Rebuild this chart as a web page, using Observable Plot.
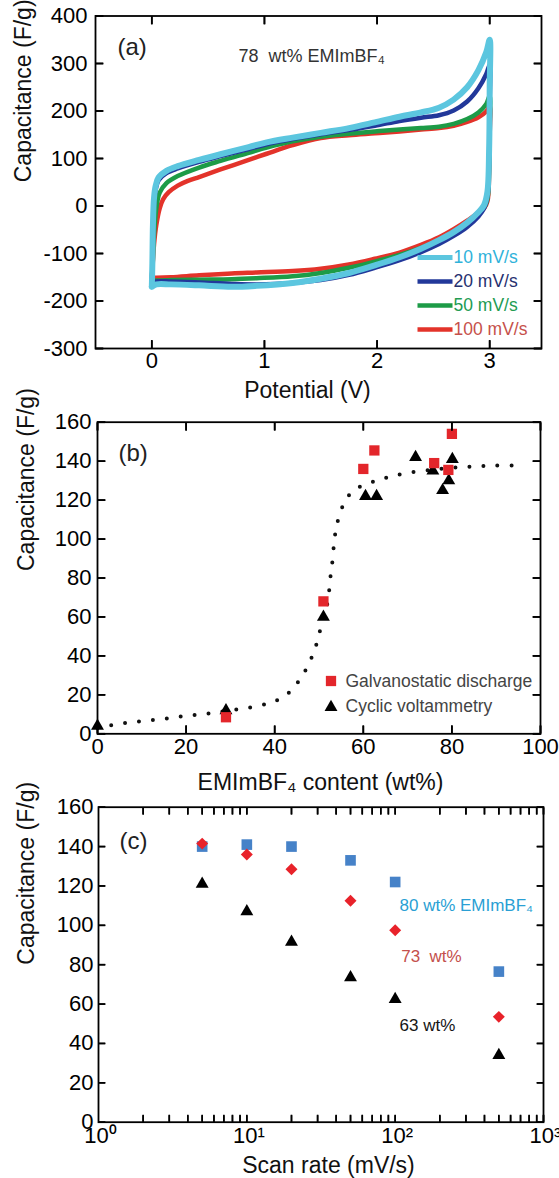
<!DOCTYPE html>
<html><head><meta charset="utf-8">
<script src="https://cdn.jsdelivr.net/npm/d3@7"></script>
<script src="https://cdn.jsdelivr.net/npm/@observablehq/plot@0.6"></script>
<style>
html,body{margin:0;padding:0;background:#fff;}
#wrap{position:relative;width:559px;height:1178px;overflow:hidden;background:#fff;}
#wrap svg{position:absolute;left:0;}
</style></head><body><div id="wrap"></div>
<script>
// ---------- Panel (a): cyclic voltammograms, 78 wt% EMImBF4 ----------
const cvSeries = ["10 mV/s", "20 mV/s", "50 mV/s", "100 mV/s"];
const cvColors = ["#5cc6df", "#22389a", "#1d9b47", "#e3332a"];
const cvTextColors = ["#2fb2da", "#26306f", "#229b52", "#c6504a"];
const cv10V = [0, 0.005, 0.01, 0.02, 0.035, 0.06, 0.13, 0.23, 0.42, 0.61, 0.86, 1.02, 1.25, 1.5, 1.75, 1.98, 2.2, 2.39, 2.55, 2.68, 2.8, 2.9, 2.97, 3.0, 3.0, 2.995, 2.98, 2.95, 2.9, 2.8, 2.68, 2.55, 2.39, 2.2, 1.98, 1.75, 1.5, 1.25, 0.93, 0.71, 0.42, 0.17, 0.04, 0];
const cv10C = [-170, -120, -40, 18, 43, 60, 74, 84, 97, 109, 124, 134, 144, 154, 164, 176, 188, 197, 207, 224, 250, 286, 324, 350, 250, 120, 30, 2, -13, -35, -55, -72, -90, -108, -125, -141, -153, -162, -168, -170, -167, -165, -165, -170];
const cv20V = [0, 0.005, 0.012, 0.02, 0.035, 0.06, 0.13, 0.23, 0.42, 0.61, 0.86, 1.02, 1.25, 1.5, 1.75, 1.98, 2.2, 2.39, 2.55, 2.68, 2.8, 2.9, 2.97, 3.0, 3.0, 2.995, 2.98, 2.95, 2.9, 2.8, 2.68, 2.55, 2.39, 2.2, 1.98, 1.75, 1.5, 1.25, 0.93, 0.71, 0.42, 0.17, 0.04, 0];
const cv20C = [-164, -125, -50, 5, 35, 54, 69, 79, 93, 105, 120, 130, 141, 151, 160, 169, 179, 186, 191, 201, 220, 248, 278, 297, 220, 100, 20, -5, -22, -44, -63, -80, -97, -114, -130, -145, -156, -162, -165, -164, -161, -159, -159, -164];
const cv50V = [0, 0.01, 0.02, 0.04, 0.07, 0.13, 0.23, 0.42, 0.61, 0.86, 1.02, 1.25, 1.5, 1.75, 1.98, 2.2, 2.39, 2.55, 2.68, 2.8, 2.9, 2.97, 3.0, 3.0, 2.995, 2.98, 2.95, 2.9, 2.8, 2.68, 2.55, 2.39, 2.2, 1.98, 1.75, 1.5, 1.25, 0.93, 0.71, 0.42, 0.17, 0.04, 0];
const cv50C = [-158, -110, -60, -5, 28, 48, 63, 81, 95, 112, 123, 136, 146, 152, 157, 161, 164, 167, 173, 183, 197, 215, 232, 170, 80, 15, -4, -17, -35, -55, -72, -88, -103, -117, -130, -141, -148, -152, -154, -155, -156, -157, -158];
const cv100V = [0, 0.01, 0.02, 0.04, 0.07, 0.1, 0.15, 0.23, 0.32, 0.42, 0.61, 0.86, 1.02, 1.25, 1.5, 1.75, 1.98, 2.2, 2.39, 2.55, 2.68, 2.8, 2.9, 2.97, 3.0, 3.0, 2.995, 2.98, 2.95, 2.9, 2.8, 2.68, 2.55, 2.39, 2.2, 1.98, 1.75, 1.5, 1.25, 0.93, 0.71, 0.42, 0.17, 0.04, 0];
const cv100C = [-151, -115, -80, -40, -5, 14, 29, 43, 53, 61, 77, 97, 110, 128, 143, 149, 153, 157, 161, 164, 169, 177, 187, 199, 210, 150, 70, 10, -5, -14, -31, -49, -66, -82, -98, -111, -123, -132, -137, -140, -142, -146, -150, -151, -151];
const aTicksX = [0, 1, 2, 3];
const aTicksY = [-300, -200, -100, 0, 100, 200, 300, 400];

// ---------- Panel (b): capacitance vs EMImBF4 content ----------
const gdWt = [29, 51, 60, 62.5, 76, 79.2, 80];
const gdCap = [8.5, 68, 136, 145.5, 139, 135.5, 154];
const cyWt = [0, 29, 51, 60.5, 63, 71.8, 75.7, 77.9, 79.3, 80.1];
const cyCap = [4, 12, 60, 122, 122, 142, 135, 125, 130, 141];
const fitWt = [0, 5, 10, 15, 20, 25, 30, 35, 39, 42, 44, 46, 47.5, 49, 50, 51, 52, 52.5, 53, 53.5, 54, 55, 56, 57.5, 60, 63, 66, 70, 75, 80, 85, 90, 95];
const fitCap = [3, 5.2, 6.5, 7.7, 9.2, 10.4, 12, 13.8, 16, 18.8, 23, 29, 35, 43, 51, 60, 68, 79, 88, 100, 107, 115, 119.5, 124.5, 127.6, 130, 132, 134, 135.5, 136.6, 137.3, 137.7, 137.8];
const bTicksX = [0, 20, 40, 60, 80, 100];
const bTicksY = [0, 20, 40, 60, 80, 100, 120, 140, 160];
const bLegend = ["Galvanostatic discharge", "Cyclic voltammetry"];

// ---------- Panel (c): capacitance vs scan rate ----------
const scanRate = [5, 10, 20, 50, 100, 500];
const cap80 = [140, 141, 140, 133, 122, 76.5];
const cap73 = [141.5, 136, 128.5, 112.5, 97.5, 53.5];
const cap63 = [121, 107, 91.5, 73.5, 62.5, 34];
const cTicksX = [1, 10, 100, 1000];
const cTicksY = [0, 20, 40, 60, 80, 100, 120, 140, 160];
const cLabels = ["80 wt% EMImBF\u2084", "73  wt%", "63 wt%"];

// ---------- helpers ----------
const FONT = '"Liberation Sans", Arial, Helvetica, sans-serif';
const W = 559;
const wrap = document.getElementById("wrap");
function place(svg, top) { svg.style.top = top + "px"; wrap.appendChild(svg); }
// inward tick marks on all four sides of the frame
function inwardTicks(xt, yt, len, sw) {
  const c = {tickSize: len, tickFormat: () => "", label: null, strokeWidth: sw};
  const vUp = {draw(ctx) { ctx.moveTo(0, 0); ctx.lineTo(0, -len); }};
  const vDown = {draw(ctx) { ctx.moveTo(0, 0); ctx.lineTo(0, len); }};
  const hRight = {draw(ctx) { ctx.moveTo(0, 0); ctx.lineTo(len, 0); }};
  const hLeft = {draw(ctx) { ctx.moveTo(0, 0); ctx.lineTo(-len, 0); }};
  const t = {fill: "none", stroke: "#000", strokeWidth: sw};
  return [
    Plot.axisX({...c, anchor: "bottom", ticks: xt, dy: -len}),
    Plot.axisX({...c, anchor: "top", ticks: xt, dy: len}),
    Plot.axisY({...c, anchor: "left", ticks: yt, dx: len}),
    Plot.axisY({...c, anchor: "right", ticks: yt, dx: -len}),
    Plot.dot(xt, {x: d => d, y: null, frameAnchor: "bottom", symbol: vUp, ...t}),
    Plot.dot(xt, {x: d => d, y: null, frameAnchor: "top", symbol: vDown, ...t}),
    Plot.dot(yt, {y: d => d, x: null, frameAnchor: "left", symbol: hRight, ...t}),
    Plot.dot(yt, {y: d => d, x: null, frameAnchor: "right", symbol: hLeft, ...t})
  ];
}
// tick labels drawn as text marks positioned by the scales
function tickLabelsX(xt, fmt, pad, dx = 0) {
  return Plot.text(xt, {x: d => d, y: null, frameAnchor: "bottom", dy: pad, dx, text: fmt, lineAnchor: "top", fontSize: 22, fill: "#000"});
}
function tickLabelsY(yt, pad) {
  return Plot.text(yt, {y: d => d, x: null, frameAnchor: "left", dx: -pad, text: d => String(d), textAnchor: "end", lineAnchor: "middle", fontSize: 22, fill: "#000"});
}
const lineSymbol = {draw(ctx) { ctx.moveTo(-17.5, 0); ctx.lineTo(17.5, 0); }};
const style = {fontFamily: FONT, background: "none", overflow: "visible", color: "#000"};

// ---------- Panel (a) ----------
{
  const H = 400, mt = 15.5, mb = 52, ml = 95, mr = 18;
  const series = [[cv100V, cv100C, 3], [cv50V, cv50C, 2], [cv20V, cv20C, 1], [cv10V, cv10C, 0]];
  const lineMarks = series.map(([V, C, k]) =>
    Plot.line(V.map((v, i) => ({v, c: C[i]})), {x: "v", y: "c", stroke: cvColors[k], strokeWidth: k === 0 ? 6 : 4.5, curve: "catmull-rom", strokeLinejoin: "round"}));
  const legendMarks = cvSeries.flatMap((s, i) => [
    Plot.dot([s], {x: null, y: null, frameAnchor: "top-left", dx: 339.5, dy: 241.5 + i * 24, symbol: lineSymbol, fill: "none", stroke: cvColors[i], strokeWidth: i === 0 ? 5 : 4.5}),
    Plot.text([s], {frameAnchor: "top-left", dx: 358, dy: 241.5 + i * 24, text: d => d, textAnchor: "start", lineAnchor: "middle", fontSize: 17.5, fill: cvTextColors[i]})
  ]);
  const svg = Plot.plot({
    width: W, height: H, marginTop: mt, marginBottom: mb, marginLeft: ml, marginRight: mr,
    style,
    x: {domain: [-0.5, 3.46]},
    y: {domain: [-300, 400]},
    marks: [
      ...lineMarks,
      Plot.frame({strokeWidth: 1.8}),
      ...inwardTicks(aTicksX, aTicksY, 8, 1.7),
      tickLabelsX(aTicksX, d => String(d), 4),
      tickLabelsY(aTicksY, 8),
      Plot.text(["Potential (V)"], {frameAnchor: "bottom", dy: 42, dx: -11, text: d => d, lineAnchor: "middle", fontSize: 23, fill: "#111"}),
      Plot.text(["Capacitance (F/g)"], {frameAnchor: "left", dx: -72, text: d => d, rotate: -90, lineAnchor: "middle", fontSize: 23, fill: "#111"}),
      Plot.text(["(a)"], {frameAnchor: "top-left", dx: 22, dy: 31.5, text: d => d, textAnchor: "start", lineAnchor: "middle", fontSize: 24, fill: "#222"}),
      Plot.text(["78  wt% EMImBF\u2084"], {frameAnchor: "top-left", dx: 143, dy: 40.5, text: d => d, textAnchor: "start", lineAnchor: "middle", fontSize: 18, fill: "#333"}),
      ...legendMarks
    ]
  });
  place(svg, 0);
}

// ---------- Panel (b) ----------
{
  const H = 390, mt = 21.7, mb = 56.7, ml = 97, mr = 19;
  const fit = fitWt.map((w, i) => ({w, c: fitCap[i]}));
  const gd = gdWt.map((w, i) => ({w, c: gdCap[i]}));
  const cy = cyWt.map((w, i) => ({w, c: cyCap[i]}));
  const svg = Plot.plot({
    width: W, height: H, marginTop: mt, marginBottom: mb, marginLeft: ml, marginRight: mr,
    style,
    x: {domain: [0, 100]},
    y: {domain: [0, 160]},
    marks: [
      Plot.line(fit, {x: "w", y: "c", stroke: "#111", strokeWidth: 4, strokeDasharray: "0 14", strokeLinecap: "round", curve: "catmull-rom"}),
      Plot.dot(cy, {x: "w", y: "c", symbol: "triangle", r: 4.8, fill: "#000"}),
      Plot.dot(gd, {x: "w", y: "c", symbol: "square", r: 5.8, fill: "#e3262b"}),
      Plot.frame({strokeWidth: 1.8}),
      ...inwardTicks(bTicksX, bTicksY, 8, 1.7),
      tickLabelsX(bTicksX, d => String(d), 5),
      tickLabelsY(bTicksY, 6),
      Plot.text(["EMImBF\u2084 content (wt%)"], {frameAnchor: "bottom", dy: 49, dx: 1.5, text: d => d, lineAnchor: "middle", fontSize: 23, fill: "#111"}),
      Plot.text(["Capacitance (F/g)"], {frameAnchor: "left", dx: -71, dy: -7, text: d => d, rotate: -90, lineAnchor: "middle", fontSize: 23, fill: "#111"}),
      Plot.text(["(b)"], {frameAnchor: "top-left", dx: 21, dy: 31.3, text: d => d, textAnchor: "start", lineAnchor: "middle", fontSize: 24, fill: "#222"}),
      Plot.dot([bLegend[0]], {x: null, y: null, frameAnchor: "top-left", dx: 233.5, dy: 258.8, symbol: "square", r: 5.8, fill: "#e3262b"}),
      Plot.dot([bLegend[1]], {x: null, y: null, frameAnchor: "top-left", dx: 233.5, dy: 285, symbol: "triangle", r: 4.8, fill: "#000"}),
      Plot.text([bLegend[0]], {frameAnchor: "top-left", dx: 248, dy: 258.8, text: d => d, textAnchor: "start", lineAnchor: "middle", fontSize: 17.5, fill: "#444"}),
      Plot.text([bLegend[1]], {frameAnchor: "top-left", dx: 248, dy: 284.5, text: d => d, textAnchor: "start", lineAnchor: "middle", fontSize: 17.5, fill: "#444"})
    ]
  });
  place(svg, 400);
}

// ---------- Panel (c) ----------
{
  const H = 388, mt = 16.7, mb = 56.3, ml = 98, mr = 16;
  const minor = d3.range(0, 3).flatMap(e => d3.range(2, 11).map(m => m * Math.pow(10, e)));
  const sup = ["\u2070", "\u00b9", "\u00b2", "\u00b3"];
  const d80 = scanRate.map((s, i) => ({s, c: cap80[i]}));
  const d73 = scanRate.map((s, i) => ({s, c: cap73[i]}));
  const d63 = scanRate.map((s, i) => ({s, c: cap63[i]}));
  const svg = Plot.plot({
    width: W, height: H, marginTop: mt, marginBottom: mb, marginLeft: ml, marginRight: mr,
    style,
    x: {type: "log", domain: [1, 1000]},
    y: {domain: [0, 160]},
    marks: [
      Plot.dot(d63, {x: "s", y: "c", symbol: "triangle", r: 4.8, fill: "#000"}),
      Plot.dot(d80, {x: "s", y: "c", symbol: "square", r: 6, fill: "#4682c8"}),
      Plot.dot(d73, {x: "s", y: "c", symbol: "diamond2", r: 5.4, fill: "#e8222a"}),
      Plot.frame({strokeWidth: 1.8}),
      ...inwardTicks(minor, cTicksY, 7, 1.6),
      tickLabelsX(cTicksX, d => "10" + sup[Math.round(Math.log10(d))], 5, 2),
      tickLabelsY(cTicksY, 5),
      Plot.text(["Scan rate (mV/s)"], {frameAnchor: "bottom", dy: 43, dx: 7.5, text: d => d, lineAnchor: "middle", fontSize: 23, fill: "#111"}),
      Plot.text(["Capacitance (F/g)"], {frameAnchor: "left", dx: -72, text: d => d, rotate: -90, lineAnchor: "middle", fontSize: 23, fill: "#111"}),
      Plot.text(["(c)"], {frameAnchor: "top-left", dx: 21, dy: 34, text: d => d, textAnchor: "start", lineAnchor: "middle", fontSize: 24, fill: "#222"}),
      Plot.text([cLabels[0]], {frameAnchor: "top-left", dx: 301, dy: 98.3, text: d => d, textAnchor: "start", lineAnchor: "middle", fontSize: 17, fill: "#2a9fd4"}),
      Plot.text([cLabels[1]], {frameAnchor: "top-left", dx: 302.7, dy: 149.3, text: d => d, textAnchor: "start", lineAnchor: "middle", fontSize: 17, fill: "#c4504c"}),
      Plot.text([cLabels[2]], {frameAnchor: "top-left", dx: 301, dy: 218.3, text: d => d, textAnchor: "start", lineAnchor: "middle", fontSize: 17, fill: "#151515"})
    ]
  });
  place(svg, 790);
}
</script></body></html>
